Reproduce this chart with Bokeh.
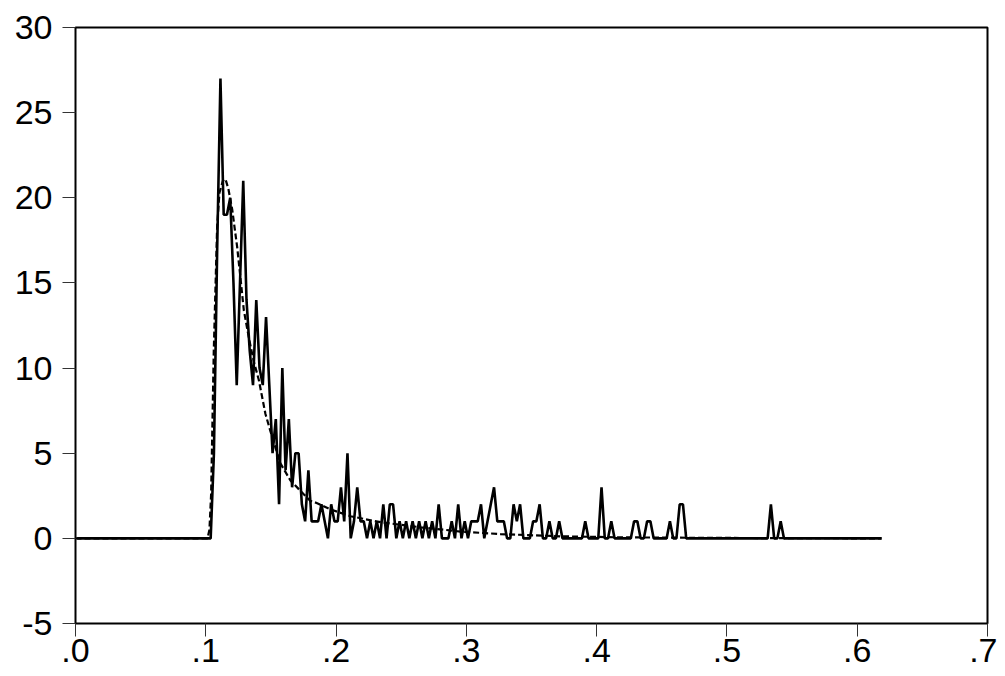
import numpy as np

from bokeh.plotting import figure
from bokeh.models import Range1d, FixedTicker, CustomJSTickFormatter, ColumnDataSource
from bokeh.embed import file_html
from bokeh.resources import INLINE


# observed frequencies, one value per bin (bins .0025 wide, first centre at .00125)
bin_first_centre = 0.00125
bin_width = 0.0025
counts = [
    0, 0, 0, 0, 0, 0, 0, 0, 0, 0, 0, 0, 0, 0, 0, 0, 0, 0, 0, 0,
    0, 0, 0, 0, 0, 0, 0, 0, 0, 0, 0, 0, 0, 0, 0, 0, 0, 0, 0, 0,
    0, 0, 5, 17, 27, 19, 19, 20, 15, 9, 15, 21, 14, 11, 9, 14, 10, 9, 13, 9,
    5, 7, 2, 10, 4, 7, 3, 5, 5, 2, 1, 4, 1, 1, 1, 2, 1, 0, 2, 1,
    1, 3, 1, 5, 0, 1, 3, 1, 1, 0, 1, 0, 1, 0, 2, 0, 2, 2, 0, 1,
    0, 1, 0, 1, 0, 1, 0, 1, 0, 1, 0, 2, 0, 0, 0, 1, 0, 2, 0, 1,
    0, 1, 1, 1, 2, 0, 1, 2, 3, 1, 1, 1, 0, 0, 2, 1, 2, 0, 0, 0,
    1, 1, 2, 0, 0, 1, 0, 0, 1, 0, 0, 0, 0, 0, 0, 0, 1, 0, 0, 0,
    0, 3, 0, 0, 1, 0, 0, 0, 0, 0, 0, 1, 1, 0, 0, 1, 1, 0, 0, 0,
    0, 0, 1, 0, 0, 2, 2, 0, 0, 0, 0, 0, 0, 0, 0, 0, 0, 0, 0, 0,
    0, 0, 0, 0, 0, 0, 0, 0, 0, 0, 0, 0, 0, 2, 0, 0, 1, 0, 0, 0,
    0, 0, 0, 0, 0, 0, 0, 0, 0, 0, 0, 0, 0, 0, 0, 0, 0, 0, 0, 0,
    0, 0, 0, 0, 0, 0, 0, 0,
]

# fitted density (dashed)
fit_x = [0.0, 0.1013, 0.1028, 0.1041, 0.1061, 0.1087, 0.1105, 0.1131, 0.1151,
         0.1174, 0.1203, 0.1241, 0.1266, 0.1292, 0.1330, 0.1368, 0.1407, 0.1458,
         0.1496, 0.1573, 0.1650, 0.1750, 0.1803, 0.1842, 0.1957, 0.2111, 0.2341,
         0.2648, 0.2955, 0.3262, 0.3722, 0.4183, 0.4797, 0.5564, 0.6186]
fit_y = [0, 0, 0.5, 2.6, 10.9, 18.3, 20.3, 21.0, 21.1,
         20.5, 19.3, 17.1, 15.3, 13.4, 11.8, 10.4, 9.3, 7.3,
         6.3, 4.4, 3.4, 2.6, 2.2, 2.1, 1.7, 1.3, 0.95,
         0.65, 0.4, 0.25, 0.12, 0.06, 0.03, 0.01, 0]

x_ticks = [0.0, 0.1, 0.2, 0.3, 0.4, 0.5, 0.6, 0.7]
y_ticks = [-5, 0, 5, 10, 15, 20, 25, 30]

FONT = "Liberation Sans"

bins = bin_first_centre + bin_width * np.arange(len(counts))
src = ColumnDataSource(data={"x": bins, "y": counts})
fit_src = ColumnDataSource(data={"x": fit_x, "y": fit_y})

p = figure(width=997, height=676, output_backend="svg", toolbar_location=None,
           x_range=Range1d(0, 0.7), y_range=Range1d(-5, 30),
           min_border_left=75, min_border_right=10, min_border_top=27,
           min_border_bottom=53)

p.line(x="x", y="y", source=src, line_color="black", line_width=2.6)
p.line(x="x", y="y", source=fit_src, line_color="black", line_width=2.2,
       line_dash="6 3")

p.grid.visible = False
p.outline_line_color = "black"
p.outline_line_width = 2
p.background_fill_color = "white"
p.border_fill_color = "white"

p.xaxis.ticker = FixedTicker(ticks=x_ticks)
p.xaxis.formatter = CustomJSTickFormatter(code="return tick.toFixed(1).replace(/^0/, '')")
p.yaxis.ticker = FixedTicker(ticks=y_ticks)
p.yaxis.formatter = CustomJSTickFormatter(code="return tick.toFixed(0)")

p.axis.axis_line_color = None
p.axis.minor_tick_line_color = None
p.axis.major_tick_in = 0
p.axis.major_tick_out = 13
p.axis.major_tick_line_color = "#333333"
p.axis.major_tick_line_width = 1
p.axis.major_label_text_font = FONT
p.axis.major_label_text_font_size = "34px"
p.axis.major_label_text_color = "black"
p.xaxis.major_label_standoff = 2
p.yaxis.major_label_standoff = 10

open("out.html", "w").write(file_html(p, INLINE))
